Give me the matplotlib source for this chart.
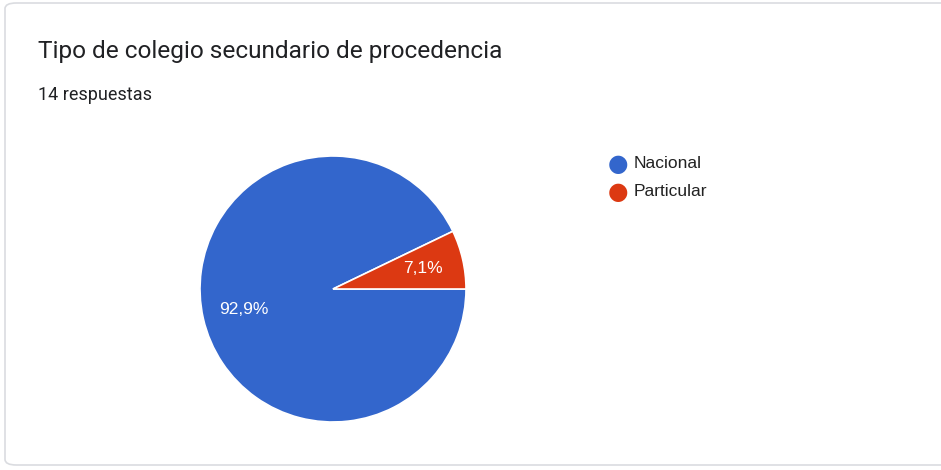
import matplotlib.pyplot as plt
from matplotlib.patches import FancyBboxPatch

title = "Tipo de colegio secundario de procedencia"
subtitle = "14 respuestas"
labels = ["Nacional", "Particular"]
counts = [13, 1]
colors = ["#3366cc", "#dc3912"]

plt.rcParams["font.family"] = ["Roboto", "DejaVu Sans"]

W, H = 941, 470
fig = plt.figure(figsize=(W / 100, H / 100), dpi=100)

# card background
card = FancyBboxPatch((5 / W, 5 / H), (W + 20) / W, (H - 8) / H,
                      boxstyle="round,pad=0,rounding_size=0.012",
                      transform=fig.transFigure, facecolor="white",
                      edgecolor="#dadce0", linewidth=1.2, zorder=-5)
fig.patches.append(card)

fig.text(38 / W, 1 - 52 / H, title, fontsize=17.6, color="#202124", va="center")
fig.text(38 / W, 1 - 95 / H, subtitle, fontsize=13, color="#202124", va="center")

# pie centred at (333, 289) px, radius 133 px
cx, cy, r = 333, 289, 133
ax = fig.add_axes([(cx - r) / W, (H - cy - r) / H, 2 * r / W, 2 * r / H])
ax.set_zorder(2)
wedges, _, autotexts = ax.pie(
    counts, colors=colors, startangle=0, counterclock=False,
    autopct=lambda p: f"{p:.1f}%".replace(".", ","), pctdistance=0.69,
    wedgeprops=dict(edgecolor="white", linewidth=1.2),
    textprops=dict(color="white", fontsize=12.5, family=["Liberation Sans", "DejaVu Sans"]))
ax.set_xlim(-1, 1)
ax.set_ylim(-1, 1)
ax.set_aspect("equal")
ax.axis("off")

# legend
for i, (lab, col) in enumerate(zip(labels, colors)):
    y = 1 - (164 + 28 * i) / H
    fig.text(618 / W, y, "\u25cf", fontsize=17, color=col,
             family="DejaVu Sans", ha="center", va="center")
    fig.text(634 / W, y, lab, fontsize=12.5, color="#222222", va="center",
             family=["Liberation Sans", "DejaVu Sans"])

fig.savefig("out.png", dpi=100)
